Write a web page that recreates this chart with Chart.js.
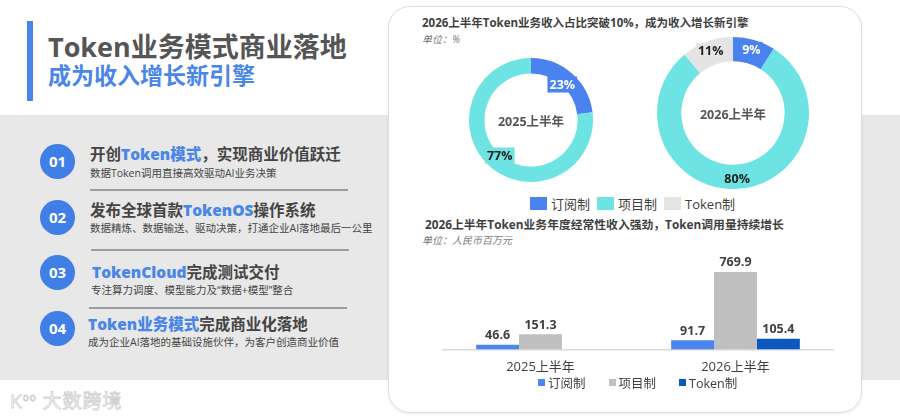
<!DOCTYPE html>
<html>
<head>
<meta charset="utf-8">
<script src="https://cdn.jsdelivr.net/npm/chart.js@4.4.0/dist/chart.umd.min.js"></script>
<style>
  html, body { margin: 0; padding: 0; }
  body { width: 900px; height: 417px; position: relative; overflow: hidden; background: #fff;
         font-family: "Open Sans", "Noto Sans CJK SC", sans-serif; color: #444; }
  .abs { position: absolute; }
  #band { left: 0; top: 115px; width: 900px; height: 265px; background: #e8e8e8; }
  #accent { left: 27px; top: 21px; width: 6px; height: 80px; background: #4a86e8; }
  #title { left: 48px; top: 28px; font-size: 27px; font-weight: 700; color: #555; white-space: nowrap; line-height: 38px; }
  #subtitle { left: 48px; top: 61px; font-size: 23px; font-weight: 700; color: #4a86e8; white-space: nowrap; line-height: 28px; }
  .num { width: 35px; height: 35px; border-radius: 50%; background: #3f7fe6; color: #fff; font-weight: 700;
         font-size: 15px; line-height: 35px; text-align: center; left: 40px; }
  .head { font-size: 15.5px; font-weight: 700; color: #444; white-space: nowrap; line-height: 20px; }
  .head b { color: #4a86e8; }
  .sub { font-size: 10.5px; color: #444; white-space: nowrap; line-height: 14px; }
  .rule { height: 1.5px; background: #9a9ca3; }
  #card { left: 388px; top: 6px; width: 472px; height: 405px; background: #fff; border: 1px solid #dedede;
          border-radius: 22px; box-shadow: 0 1px 3px rgba(0,0,0,0.08); }
  .ctitle { font-size: 11.5px; font-weight: 700; color: #3f3f3f; white-space: nowrap; line-height: 16px; }
  .unit { font-size: 10px; font-style: italic; color: #777; white-space: nowrap; line-height: 13px; }
  .center { font-size: 12.5px; font-weight: 700; color: #555; white-space: nowrap; transform: translate(-50%, -50%); }
  .legend { display: flex; align-items: center; white-space: nowrap; color: #404040; }
  .legend span.box { display: inline-block; }
  #watermark { left: 10px; top: 386px; font-size: 19px; font-weight: 400; color: #fff;
               -webkit-text-stroke: 0.8px #cfcfcf; white-space: nowrap; letter-spacing: 1px; }
  #watermark sup { font-size: 10px; }
</style>
</head>
<body>
<div id="band" class="abs"></div>
<div id="accent" class="abs"></div>
<div id="title" class="abs">Token业务模式商业落地</div>
<div id="subtitle" class="abs">成为收入增长新引擎</div>

<div class="abs num" style="top:144px">01</div>
<div class="abs head" style="left:90px;top:144px">开创<b>Token模式</b>，实现商业价值跃迁</div>
<div class="abs sub" style="left:90px;top:166px">数据Token调用直接高效驱动AI业务决策</div>
<div class="abs rule" style="left:90px;top:189px;width:258px"></div>

<div class="abs num" style="top:200px">02</div>
<div class="abs head" style="left:90px;top:200px">发布全球首款<b>TokenOS</b>操作系统</div>
<div class="abs sub" style="left:90px;top:221px">数据精炼、数据输送、驱动决策，打通企业AI落地最后一公里</div>
<div class="abs rule" style="left:91px;top:249px;width:258px"></div>

<div class="abs num" style="top:255px">03</div>
<div class="abs head" style="left:92px;top:262px"><b>TokenCloud</b>完成测试交付</div>
<div class="abs sub" style="left:91px;top:283px">专注算力调度、模型能力及“数据+模型”整合</div>
<div class="abs rule" style="left:89px;top:307px;width:258px"></div>

<div class="abs num" style="top:311px">04</div>
<div class="abs head" style="left:88px;top:314px"><b>Token业务模式</b>完成商业化落地</div>
<div class="abs sub" style="left:88px;top:335px">成为企业AI落地的基础设施伙伴，为客户创造商业价值</div>

<div id="watermark" class="abs">K<sup>oo</sup> 大数跨境</div>

<div id="card" class="abs"></div>
<div class="abs ctitle" style="left:422px;top:15px">2026上半年Token业务收入占比突破10%，成为收入增长新引擎</div>
<div class="abs unit" style="left:422px;top:33px">单位：%</div>

<canvas id="pie2025" class="abs" width="124" height="124" style="left:469px;top:58px"></canvas>
<canvas id="pie2026" class="abs" width="152" height="152" style="left:657px;top:37px"></canvas>
<div id="c2025" class="abs center" style="left:531px;top:120px"></div>
<div id="c2026" class="abs center" style="left:733px;top:113px"></div>
<div id="pieLegend" class="abs legend" style="left:530px;top:196px;height:14px;font-size:13px"></div>

<div class="abs ctitle" style="left:425px;top:216px;font-size:11.8px">2026上半年Token业务年度经常性收入强劲，Token调用量持续增长</div>
<div class="abs unit" style="left:422px;top:234px">单位：人民币百万元</div>

<canvas id="bars" class="abs" width="410" height="136" style="left:433px;top:249px"></canvas>
<div id="barLegend" class="abs legend" style="left:538px;top:375px;height:14px;font-size:12.5px"></div>

<script>
// revenue mix, %
const shareSeries = ["订阅制", "项目制", "Token制"];
const shareYears = ["2025上半年", "2026上半年"];
const share2025 = [23, 77, 0];
const share2026 = [9, 80, 11];

// revenue, RMB million
const periods = ["2025上半年", "2026上半年"];
const revenueSeries = ["订阅制", "项目制", "Token制"];
const subscriptionRevenue = [46.6, 91.7];
const projectRevenue = [151.3, 769.9];
const tokenRevenue = [null, 105.4];

const pieColors = ["#4a82f0", "#6ee3e3", "#e4e4e4"];
const pieTextColors = ["#ffffff", "#1e1e1e", "#1e1e1e"];
const barColors = ["#4a86ee", "#bfbfbf", "#0b59c0"];
const numFont = '"Open Sans", "Noto Sans CJK SC", sans-serif';

// percent labels on the ring, with a box in the slice colour behind them
const arcLabels = {
  id: "arcLabels",
  afterDatasetsDraw(chart, args, opts) {
    const ctx = chart.ctx;
    const values = chart.data.datasets[0].data;
    chart.getDatasetMeta(0).data.forEach((arc, i) => {
      if (!values[i]) return;
      const p = arc.getProps(["x", "y", "startAngle", "endAngle", "innerRadius", "outerRadius"], true);
      const mid = (p.startAngle + p.endAngle) / 2;
      const r = p.innerRadius + (p.outerRadius - p.innerRadius) * opts.pos;
      const x = p.x + Math.cos(mid) * r;
      const y = p.y + Math.sin(mid) * r;
      const text = values[i] + "%";
      ctx.save();
      ctx.font = "700 12.5px " + numFont;
      const w = ctx.measureText(text).width;
      ctx.fillStyle = pieColors[i];
      ctx.fillRect(x - w / 2 - 2, y - 8, w + 4, 16);
      ctx.fillStyle = pieTextColors[i];
      ctx.textAlign = "center";
      ctx.textBaseline = "middle";
      ctx.fillText(text, x, y + 0.5);
      ctx.restore();
    });
  }
};

const barLabels = {
  id: "barLabels",
  afterDatasetsDraw(chart) {
    const ctx = chart.ctx;
    ctx.save();
    ctx.font = "700 12.5px " + numFont;
    ctx.fillStyle = "#404040";
    ctx.textAlign = "center";
    ctx.textBaseline = "bottom";
    chart.data.datasets.forEach((ds, d) => {
      chart.getDatasetMeta(d).data.forEach((bar, i) => {
        if (ds.data[i] == null) return;
        ctx.fillText(ds.data[i].toFixed(1), bar.x, bar.y - 3);
      });
    });
    ctx.restore();
  }
};

function makePie(id, values, pos, cutout) {
  return new Chart(document.getElementById(id), {
    type: "doughnut",
    data: {
      labels: shareSeries,
      datasets: [{ data: values, backgroundColor: pieColors, borderWidth: 0 }]
    },
    options: {
      responsive: false,
      animation: false,
      cutout: cutout,
      layout: { padding: 0 },
      plugins: { legend: { display: false }, tooltip: { enabled: false }, arcLabels: { pos: pos } }
    },
    plugins: [arcLabels]
  });
}

makePie("pie2025", share2025, 0.05, "75%");
makePie("pie2026", share2026, 0.58, "68%");
document.getElementById("c2025").textContent = shareYears[0];
document.getElementById("c2026").textContent = shareYears[1];

function fillLegend(id, names, colors, box, gap, space) {
  const el = document.getElementById(id);
  names.forEach((n, i) => {
    const item = document.createElement("span");
    item.style.display = "flex";
    item.style.alignItems = "center";
    item.style.marginRight = space + "px";
    const b = document.createElement("span");
    b.className = "box";
    b.style.width = box[0] + "px";
    b.style.height = box[1] + "px";
    b.style.background = colors[i];
    b.style.marginRight = gap + "px";
    item.appendChild(b);
    item.appendChild(document.createTextNode(n));
    el.appendChild(item);
  });
}
fillLegend("pieLegend", shareSeries, pieColors, [17, 13], 4, 7);
fillLegend("barLegend", revenueSeries, barColors, [7, 7], 3, 23);

new Chart(document.getElementById("bars"), {
  type: "bar",
  data: {
    labels: periods,
    datasets: [
      { label: revenueSeries[0], data: subscriptionRevenue, backgroundColor: barColors[0] },
      { label: revenueSeries[1], data: projectRevenue, backgroundColor: barColors[1] },
      { label: revenueSeries[2], data: tokenRevenue, backgroundColor: barColors[2] }
    ]
  },
  options: {
    responsive: false,
    animation: false,
    layout: { padding: { top: 0, left: 10, right: 10, bottom: 0 } },
    datasets: { bar: { categoryPercentage: 0.66, barPercentage: 1 } },
    scales: {
      x: {
        grid: { display: false, drawTicks: false },
        border: { color: "#d9d9d9", width: 1.5 },
        ticks: { color: "#404040", padding: 10, font: { size: 13, family: numFont } }
      },
      y: { display: false, min: 0, max: 1000 }
    },
    plugins: { legend: { display: false }, tooltip: { enabled: false } }
  },
  plugins: [barLabels]
});
</script>
</body>
</html>
